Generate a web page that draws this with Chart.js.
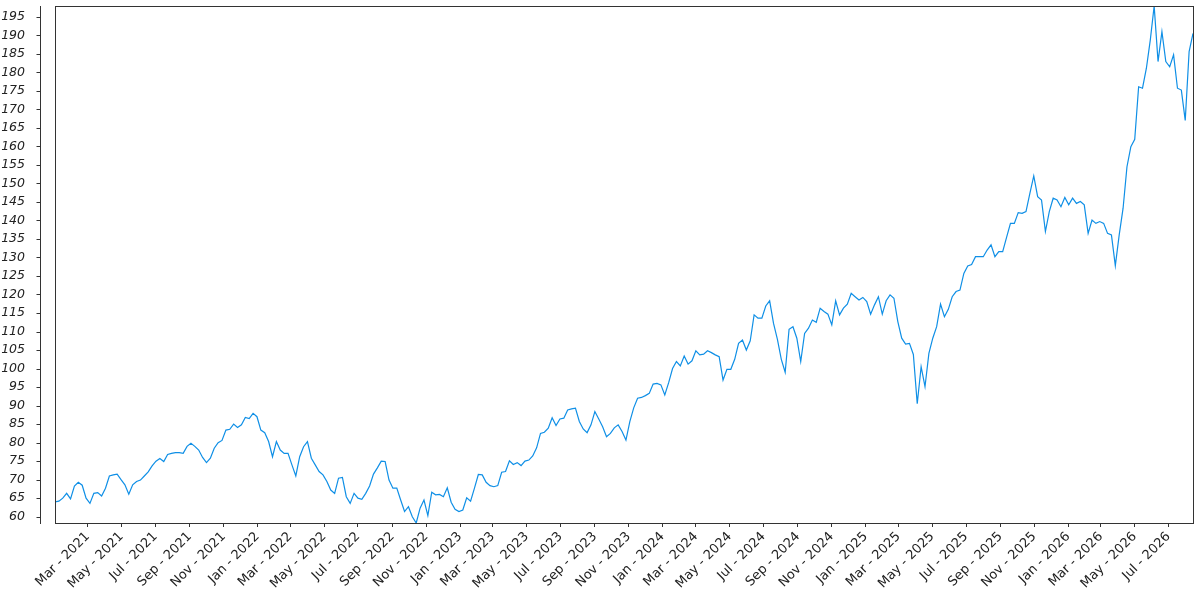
<!DOCTYPE html>
<html>
<head>
<meta charset="utf-8">
<script src="https://cdn.jsdelivr.net/npm/chart.js@4.4.1/dist/chart.umd.min.js"></script>
<style>
  html, body { margin: 0; padding: 0; background: #fff; }
  #wrap { width: 1200px; height: 600px; }
</style>
</head>
<body>
<div id="wrap"><canvas id="chart"></canvas></div>
<script>
// weekly closes, first one on 1 Jan 2021
const startDate = Date.UTC(2021, 0, 1);
const stepDays = 7;

const prices = [
  64.0, 64.2, 65.0, 66.3, 64.8, 68.3, 69.3, 68.5, 65.0, 63.6,
  66.3, 66.5, 65.6, 67.7, 71.0, 71.3, 71.5, 70.0, 68.6, 66.1,
  68.6, 69.5, 69.9, 71.0, 72.1, 73.7, 75.0, 75.7, 74.9, 76.8,
  77.1, 77.3, 77.3, 77.1, 79.0, 79.8, 79.0, 78.0, 76.0, 74.6,
  75.8, 78.5, 80.0, 80.6, 83.4, 83.6, 85.0, 84.1, 84.8, 86.8,
  86.5, 87.9, 87.0, 83.4, 82.7, 80.3, 76.2, 80.3, 78.0, 77.1,
  77.1, 74.0, 71.0, 76.2, 78.9, 80.3, 75.8, 74.0, 72.2, 71.3,
  69.5, 67.2, 66.3, 70.4, 70.6, 65.4, 63.6, 66.3, 65.0, 64.7,
  66.3, 68.3, 71.5, 73.2, 75.0, 74.9, 69.9, 67.7, 67.7, 64.5,
  61.4, 62.7, 60.0, 58.3, 62.3, 64.5, 60.3, 66.6, 65.9, 66.0,
  65.4, 67.8, 63.9, 62.0, 61.4, 61.8, 65.1, 64.2, 67.7, 71.4,
  71.3, 69.3, 68.4, 68.1, 68.4, 72.0, 72.2, 75.1, 74.1, 74.6,
  73.8, 75.0, 75.3, 76.4, 78.6, 82.5, 82.8, 83.9, 86.7, 84.6,
  86.4, 86.6, 88.8, 89.1, 89.3, 85.7, 83.7, 82.7, 84.8, 88.4,
  86.4, 84.3, 81.6, 82.5, 84.0, 84.8, 83.0, 80.7, 85.7, 89.4,
  92.0, 92.2, 92.7, 93.3, 95.8, 96.0, 95.6, 92.9, 96.2, 100.0,
  101.9, 100.7, 103.4, 101.2, 102.1, 104.8, 103.7, 103.9, 104.8, 104.3,
  103.7, 103.2, 96.9, 99.8, 99.8, 102.5, 106.8, 107.7, 105.0, 107.5,
  114.5, 113.6, 113.6, 116.9, 118.3, 112.2, 107.9, 102.5, 99.0, 110.6,
  111.3, 108.2, 101.9, 109.5, 110.9, 113.1, 112.5, 116.3, 115.4, 114.7,
  111.8, 118.3, 114.5, 116.3, 117.4, 120.3, 119.4, 118.5, 119.2, 118.1,
  114.7, 117.2, 119.4, 114.7, 118.3, 119.9, 119.0, 112.7, 108.2, 106.6,
  106.8, 103.8, 90.5, 100.5, 95.1, 104.1, 108.2, 111.3, 117.4, 114.0,
  116.0, 119.4, 120.8, 121.2, 125.7, 127.7, 128.1, 130.2, 130.2, 130.2,
  132.0, 133.4, 130.2, 131.6, 131.6, 135.4, 139.2, 139.2, 142.1, 141.9,
  142.4, 147.3, 152.0, 146.4, 145.5, 137.0, 142.4, 146.0, 145.5, 143.7,
  146.2, 144.2, 146.0, 144.6, 145.1, 144.2, 136.5, 140.1, 139.2, 139.7,
  139.2, 136.5, 136.1, 127.8, 136.1, 143.3, 154.5, 159.9, 161.9, 176.1,
  175.7, 181.1, 188.7, 197.9, 182.9, 191.0, 182.9, 181.5, 184.7, 175.7,
  175.2, 167.0, 185.6, 190.5
];

const yTicks = [60, 65, 70, 75, 80, 85, 90, 95, 100, 105, 110, 115, 120, 125,
  130, 135, 140, 145, 150, 155, 160, 165, 170, 175, 180, 185, 190, 195];

const monthNames = ['Jan', 'Feb', 'Mar', 'Apr', 'May', 'Jun',
  'Jul', 'Aug', 'Sep', 'Oct', 'Nov', 'Dec'];

// x ticks on the 1st of every other month, Mar 2021 .. Jul 2026
const xTicks = [];
for (let y = 2021; y <= 2026; y++) {
  for (let m = 0; m < 12; m += 2) {
    const k = (y - 2021) * 12 + m;
    if (k < 2 || k > 66) continue;
    xTicks.push({ day: (Date.UTC(y, m, 1) - startDate) / 86400000, label: monthNames[m] + ' - ' + y });
  }
}

const points = prices.map((v, i) => ({ x: i * stepDays, y: v }));

// box round the plot + detached y spine with its tick marks
const frame = {
  id: 'frame',
  afterDraw(chart) {
    const { ctx, chartArea: a, scales: { y } } = chart;
    ctx.save();
    ctx.strokeStyle = '#333';
    ctx.lineWidth = 1;
    ctx.strokeRect(Math.round(a.left) + 0.5, Math.round(a.top) + 0.5,
      Math.round(a.right - a.left), Math.round(a.bottom - a.top));
    const sx = 40.5;
    ctx.beginPath();
    ctx.moveTo(sx, a.top);
    ctx.lineTo(sx, a.bottom + 1);
    y.ticks.forEach(t => {
      const py = Math.round(y.getPixelForValue(t.value)) + 0.5;
      ctx.moveTo(sx - 4, py);
      ctx.lineTo(sx, py);
    });
    ctx.stroke();
    ctx.restore();
  }
};

new Chart(document.getElementById('chart'), {
  type: 'line',
  data: {
    datasets: [{
      data: points,
      borderColor: '#0f8fe6',
      borderWidth: 1.2,
      pointRadius: 0,
      tension: 0,
      fill: false
    }]
  },
  options: {
    responsive: true,
    maintainAspectRatio: false,
    animation: false,
    devicePixelRatio: 1,
    layout: { padding: { top: 6, right: 7, left: 0, bottom: 0 } },
    plugins: { legend: { display: false }, tooltip: { enabled: false } },
    scales: {
      x: {
        type: 'linear',
        min: 0,
        max: (prices.length - 1) * stepDays,
        afterBuildTicks: s => { s.ticks = xTicks.map(t => ({ value: t.day })); },
        afterFit: s => { s.height = 77; s.paddingLeft = 0; s.paddingRight = 0; },
        border: { display: false },
        grid: { drawOnChartArea: false, drawTicks: true, tickLength: 4, color: '#333' },
        ticks: {
          autoSkip: false,
          minRotation: 45,
          maxRotation: 45,
          padding: 2,
          color: '#222',
          font: { family: 'DejaVu Sans', size: 13 },
          callback: (v, i) => xTicks[i] ? xTicks[i].label : ''
        }
      },
      y: {
        min: Math.min(...prices),
        max: Math.max(...prices),
        afterBuildTicks: s => { s.ticks = yTicks.map(v => ({ value: v })); },
        afterFit: s => { s.width = 55; s.paddingTop = 0; s.paddingBottom = 0; },
        border: { display: false },
        grid: { display: false },
        ticks: {
          autoSkip: false,
          padding: 22,
          color: '#222',
          font: { family: 'DejaVu Sans', size: 12.5, style: 'italic' }
        }
      }
    }
  },
  plugins: [frame]
});
</script>
</body>
</html>
